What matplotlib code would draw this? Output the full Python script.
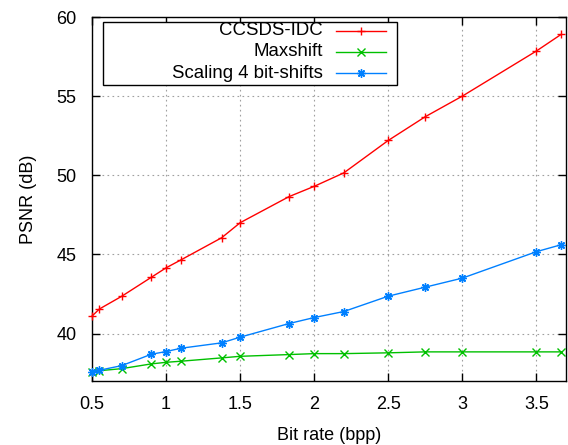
import matplotlib
matplotlib.use("Agg")
import matplotlib.pyplot as plt
from matplotlib.lines import Line2D
from matplotlib.patches import Rectangle

plt.rcParams.update({"font.family": ["Liberation Sans", "DejaVu Sans"], "font.size": 13})

# ---- data ----
rate_ccsds = [0.5, 0.55, 0.7, 0.9, 1.0, 1.1, 1.375, 1.5, 1.83, 2.0, 2.2, 2.5, 2.75, 3.0, 3.5, 3.667]
psnr_ccsds = [41.1, 41.55, 42.35, 43.55, 44.15, 44.65, 46.05, 47.0, 48.65, 49.3, 50.15, 52.2, 53.7, 55.0, 57.85, 58.9]

rate_maxshift = [0.5, 0.55, 0.7, 0.9, 1.0, 1.1, 1.375, 1.5, 1.83, 2.0, 2.2, 2.5, 2.75, 3.0, 3.5, 3.667]
psnr_maxshift = [37.55, 37.65, 37.78, 38.08, 38.18, 38.25, 38.46, 38.56, 38.67, 38.73, 38.73, 38.78, 38.84, 38.84, 38.84, 38.84]

rate_scaling = [0.5, 0.55, 0.7, 0.9, 1.0, 1.1, 1.375, 1.5, 1.83, 2.0, 2.2, 2.5, 2.75, 3.0, 3.5, 3.667]
psnr_scaling = [37.55, 37.68, 37.97, 38.69, 38.86, 39.07, 39.41, 39.77, 40.63, 41.01, 41.39, 42.36, 42.93, 43.5, 45.17, 45.61]

labels = ["CCSDS-IDC", "Maxshift", "Scaling 4 bit-shifts"]
xticks = [0.5, 1, 1.5, 2, 2.5, 3, 3.5]
xticklabels = ["0.5", "1", "1.5", "2", "2.5", "3", "3.5"]
yticks = [40, 45, 50, 55, 60]

RED, GREEN, BLUE = "#ff0000", "#00c000", "#0080ff"
styles = [(RED, "+"), (GREEN, "x"), (BLUE, (8, 2, 0))]

fig = plt.figure(figsize=(5.68, 4.45), dpi=100, facecolor="white")
ax = fig.add_axes([92/568, 1-381/445, 474/568, 364/445])

series = [(rate_ccsds, psnr_ccsds), (rate_maxshift, psnr_maxshift), (rate_scaling, psnr_scaling)]
for (xs, ys), (col, mk) in zip(series, styles):
    ax.plot(xs, ys, color=col, lw=1.0, marker=mk, ms=6, mew=1.0, clip_on=False, zorder=3)

ax.set_xlim(0.5, 3.7)
ax.set_ylim(37, 60)
ax.set_xticks(xticks)
ax.set_xticklabels(xticklabels)
ax.set_yticks(yticks)
ax.tick_params(direction="in", length=6, width=1, top=True, right=True, labelsize=13)
ax.tick_params(axis="x", pad=11)
ax.tick_params(axis="y", pad=11)
ax.grid(True, color="#a0a0a0", ls=(0, (1.5, 3)), lw=0.8)
for s in ax.spines.values():
    s.set_linewidth(1.0)

ax.set_xlabel("Bit rate (bpp)", fontsize=13, labelpad=10)
ax.set_ylabel("PSNR (dB)", fontsize=13, labelpad=14)

# ---- gnuplot-style legend, drawn by hand ----
ax.add_patch(Rectangle((0.023, 0.813), 0.62, 0.173, transform=ax.transAxes,
                       facecolor="white", edgecolor="black", lw=1.0, zorder=5))
rows_y = [0.962, 0.904, 0.846]
for lab, ry, (col, mk) in zip(labels, rows_y, styles):
    ax.text(0.487, ry, lab, transform=ax.transAxes, ha="right", va="center",
            fontsize=13.4, zorder=6)
    ax.add_line(Line2D([0.515, 0.620], [ry, ry], transform=ax.transAxes,
                       color=col, lw=1.0, zorder=6))
    ax.add_line(Line2D([0.5675], [ry], transform=ax.transAxes, color=col,
                       marker=mk, ms=6, mew=1.0, zorder=6))

fig.savefig("out.png", dpi=100, facecolor="white")
